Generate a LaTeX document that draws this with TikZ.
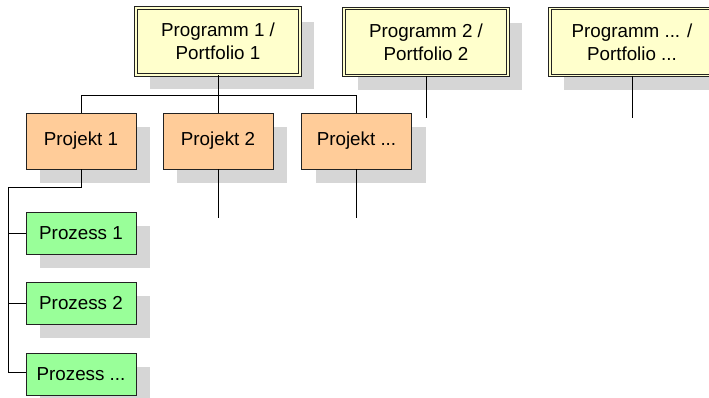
\documentclass[tikz,border=0pt]{standalone}
\usepackage{fontspec}
\setmainfont{Liberation Sans}
\usetikzlibrary{shadows}
\definecolor{progfill}{HTML}{FFFFCC}
\definecolor{projfill}{HTML}{FFCC99}
\definecolor{procfill}{HTML}{99FF99}
\definecolor{shadowgray}{HTML}{D6D6D6}
\definecolor{edge}{HTML}{222222}
\tikzset{
  boxbase/.style={draw=edge, line width=0.8pt, inner sep=0pt, align=center,
    font=\fontsize{18.8}{23}\selectfont,
    drop shadow={shadow xshift=14pt, shadow yshift=-14pt, opacity=1, fill=shadowgray, draw=none}},
  progbox/.style={boxbase, fill=progfill, double=progfill, double distance=1.6pt,
    minimum width=164pt, minimum height=67pt},
  projbox/.style={boxbase, fill=projfill, minimum width=110pt, minimum height=56pt},
  procbox/.style={boxbase, fill=procfill, minimum width=110pt, minimum height=42pt},
  link/.style={draw=black, line width=0.8pt}
}
\begin{document}
\begin{tikzpicture}[x=1pt,y=-1pt]
\useasboundingbox (0,0) rectangle (709,397);
\clip (0,0) rectangle (709,397);

% programmes / portfolios
\node[progbox] (pg1) at (218,41.5) {Programm 1 /\\Portfolio 1};
\node[progbox] (pg2) at (426,42) {Programm 2 /\\Portfolio 2};
\node[progbox] (pg3) at (632,42) {Programm ... /\\Portfolio ...};

% projects
\node[projbox] (pj1) at (81,141) {Projekt 1};
\node[projbox] (pj2) at (218,141) {Projekt 2};
\node[projbox] (pj3) at (356.5,141) {Projekt ...};

% processes
\node[procbox] (pz1) at (81,233) {Prozess 1};
\node[procbox] (pz2) at (81,303) {Prozess 2};
\node[procbox] (pz3) at (81,374) {Prozess ...};

% bus below programme 1
\coordinate (bus) at (218,95);
\draw[link] (pg1.south) -- (bus);
\draw[link] (pj1.north) -- (pj1.north |- bus) -- (pj3.north |- bus) -- (pj3.north);
\draw[link] (bus) -- (pj2.north);

% open stubs
\coordinate (pg2end) at (426,118);
\coordinate (pg3end) at (632,118);
\coordinate (pj2end) at (218,218);
\coordinate (pj3end) at (356.5,218);
\draw[link] (pg2.south) -- (pg2end);
\draw[link] (pg3.south) -- (pg3end);
\draw[link] (pj2.south) -- (pj2end);
\draw[link] (pj3.south) -- (pj3end);

% process tree under project 1
\coordinate (trunk) at (8,187);
\draw[link] (pj1.south) |- (trunk) |- ([yshift=2pt]pz3.west);
\draw[link] (trunk |- pz1.west) -- (pz1.west);
\draw[link] (trunk |- pz2.west) -- (pz2.west);
\end{tikzpicture}
\end{document}
